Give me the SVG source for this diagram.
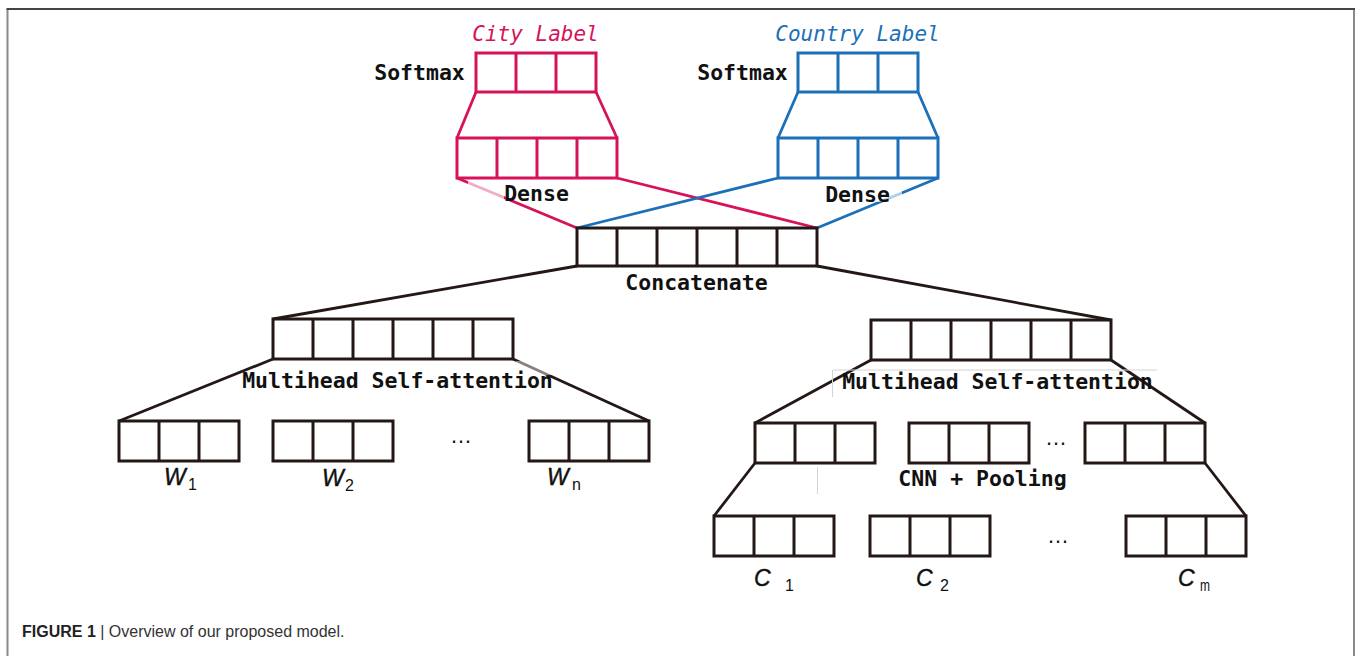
<svg xmlns="http://www.w3.org/2000/svg" width="1360" height="656" viewBox="0 0 1360 656">
  <style>
    .box { fill: none; stroke: #231815; stroke-width: 3; }
    .box.pink { stroke: #d6125b; }
    .box.blue { stroke: #1b70b8; }
    .link { fill: none; stroke: #231815; stroke-width: 2.8; }
    .link.pink { stroke: #d6125b; }
    .link.blue { stroke: #1b70b8; }
    .mono { font-family: "DejaVu Sans Mono", "Liberation Mono", monospace; font-weight: bold; font-size: 21.5px; fill: #111; text-anchor: middle; }
    .title { font-family: "DejaVu Sans Mono", "Liberation Mono", monospace; font-style: italic; font-size: 21px; text-anchor: middle; }
    .var { font-family: "Liberation Sans", Arial, sans-serif; font-style: italic; font-size: 23px; fill: #111; stroke: #111; stroke-width: 0.4; }
    .sub { font-family: "Liberation Sans", Arial, sans-serif; font-size: 16px; fill: #111; }
    .dots { font-family: "Liberation Sans", Arial, sans-serif; font-size: 22px; fill: #111; text-anchor: middle; }
    .ghost { stroke: #d4d4d4; stroke-width: 1; fill: none; }
  </style>

  <rect width="1360" height="656" fill="#ffffff"/>

  <!-- outer frame (open at the bottom) -->
  <path d="M7.5 660 V9" stroke="#8a8a8a" stroke-width="2" fill="none"/>
  <path d="M1354 660 V9" stroke="#8a8a8a" stroke-width="2" fill="none"/>
  <path d="M6.5 9 H1355" stroke="#444" stroke-width="2" fill="none"/>

  <!-- connectors -->
  <g id="connectors">
    <!-- softmax to dense trapezoids -->
    <path class="link pink" d="M476 92 L457 138 M596 92 L617 138"/>
    <path class="link blue" d="M798 92 L778 138 M918 92 L938 138"/>
    <!-- dense layers to concatenation (crossing) -->
    <path class="link pink" d="M457 178 L577 228 M617 178 L817 228"/>
    <path class="link blue" d="M778 178 L577 228 M938 178 L817 228"/>
    <!-- concatenation to the two attention blocks -->
    <path class="link" d="M577 266 L273 319"/>
    <path class="link" d="M817 266 L1111 320"/>
    <!-- word attention to word vectors -->
    <path class="link" d="M273 359 L119 421"/>
    <path class="link" d="M513 359 L649 421"/>
    <!-- char attention to CNN outputs -->
    <path class="link" d="M871 360 L755 423"/>
    <path class="link" d="M1111 360 L1205 423"/>
    <!-- CNN outputs to character vectors -->
    <path class="link" d="M755 463 L714 516"/>
    <path class="link" d="M1205 463 L1246 516"/>
    <!-- faded segments under the label backgrounds -->
    <rect x="468" y="178" width="36" height="24" fill="#fff" opacity="0.65"/>
    <rect x="866" y="180" width="36" height="22" fill="#fff" opacity="0.65"/>
    <rect x="516" y="361" width="40" height="14" fill="#fff" opacity="0.45"/>
    <path class="ghost" d="M832.5 370 V397 M833 370 H1157 M817.5 467 V494"/>
  </g>

  <!-- city branch -->
  <g id="city-label">
    <text class="title" x="535.5" y="40.5" fill="#d6125b">City Label</text>
  </g>
  <g id="city-softmax">
    <text class="mono" x="419.5" y="79.5">Softmax</text>
    <rect class="box pink" x="476" y="53" width="120" height="39"/>
    <path class="box pink" d="M516 53 V92 M556 53 V92"/>
  </g>
  <g id="city-dense">
    <rect class="box pink" x="457" y="138" width="160" height="40"/>
    <path class="box pink" d="M497 138 V178 M537 138 V178 M577 138 V178"/>
    <text class="mono" x="536.5" y="201">Dense</text>
  </g>

  <!-- country branch -->
  <g id="country-label">
    <text class="title" x="857.5" y="40.5" fill="#1b70b8">Country Label</text>
  </g>
  <g id="country-softmax">
    <text class="mono" x="742.5" y="79.5">Softmax</text>
    <rect class="box blue" x="798" y="53" width="120" height="39"/>
    <path class="box blue" d="M838 53 V92 M878 53 V92"/>
  </g>
  <g id="country-dense">
    <rect class="box blue" x="778" y="138" width="160" height="40"/>
    <path class="box blue" d="M818 138 V178 M858 138 V178 M898 138 V178"/>
    <text class="mono" x="857.5" y="201.5">Dense</text>
  </g>

  <!-- shared representation -->
  <g id="concatenate">
    <rect class="box" x="577" y="228" width="240" height="38"/>
    <path class="box" d="M617 228 V266 M657 228 V266 M697 228 V266 M737 228 V266 M777 228 V266"/>
    <text class="mono" x="696.5" y="290">Concatenate</text>
  </g>

  <!-- word-level attention -->
  <g id="word-attention">
    <rect class="box" x="273" y="319" width="240" height="40"/>
    <path class="box" d="M313 319 V359 M353 319 V359 M393 319 V359 M433 319 V359 M473 319 V359"/>
    <text class="mono" x="397.5" y="387.5">Multihead Self-attention</text>
  </g>
  <g id="word-1">
    <rect class="box" x="119" y="421" width="120" height="40"/>
    <path class="box" d="M159 421 V461 M199 421 V461"/>
    <text class="var" x="164" y="485">W</text>
    <text class="sub" x="188" y="490">1</text>
  </g>
  <g id="word-2">
    <rect class="box" x="273" y="421" width="120" height="40"/>
    <path class="box" d="M313 421 V461 M353 421 V461"/>
    <text class="var" x="322" y="486">W</text>
    <text class="sub" x="345" y="491">2</text>
  </g>
  <g id="word-gap">
    <text class="dots" x="461" y="443">…</text>
  </g>
  <g id="word-n">
    <rect class="box" x="529" y="421" width="120" height="40"/>
    <path class="box" d="M569 421 V461 M609 421 V461"/>
    <text class="var" x="547" y="485">W</text>
    <text class="sub" x="572" y="490">n</text>
  </g>

  <!-- character-level attention -->
  <g id="char-attention">
    <rect class="box" x="871" y="320" width="240" height="40"/>
    <path class="box" d="M911 320 V360 M951 320 V360 M991 320 V360 M1031 320 V360 M1071 320 V360"/>
    <text class="mono" x="997.5" y="389">Multihead Self-attention</text>
  </g>
  <g id="cnn-1">
    <rect class="box" x="755" y="423" width="120" height="40"/>
    <path class="box" d="M795 423 V463 M835 423 V463"/>
  </g>
  <g id="cnn-2">
    <rect class="box" x="909" y="423" width="120" height="40"/>
    <path class="box" d="M949 423 V463 M989 423 V463"/>
  </g>
  <g id="cnn-gap">
    <text class="dots" x="1056" y="445">…</text>
  </g>
  <g id="cnn-m">
    <rect class="box" x="1085" y="423" width="120" height="40"/>
    <path class="box" d="M1125 423 V463 M1165 423 V463"/>
  </g>
  <g id="cnn-pooling">
    <text class="mono" x="982.5" y="486">CNN + Pooling</text>
  </g>
  <g id="char-1">
    <rect class="box" x="714" y="516" width="120" height="40"/>
    <path class="box" d="M754 516 V556 M794 516 V556"/>
    <text class="var" x="754" y="586" font-size="24">C</text>
    <text class="sub" x="785" y="591">1</text>
  </g>
  <g id="char-2">
    <rect class="box" x="870" y="516" width="120" height="40"/>
    <path class="box" d="M910 516 V556 M950 516 V556"/>
    <text class="var" x="916" y="586" font-size="24">C</text>
    <text class="sub" x="940" y="591">2</text>
  </g>
  <g id="char-gap">
    <text class="dots" x="1058" y="543">…</text>
  </g>
  <g id="char-m">
    <rect class="box" x="1126" y="516" width="120" height="40"/>
    <path class="box" d="M1166 516 V556 M1206 516 V556"/>
    <text class="var" x="1178" y="586" font-size="24">C</text>
    <text class="sub" x="1200" y="591" font-size="14" textLength="10" lengthAdjust="spacingAndGlyphs">m</text>
  </g>

  <!-- caption -->
  <g id="caption">
    <text x="22" y="637" font-family="'Liberation Sans', Arial, sans-serif" font-size="16" fill="#333"><tspan font-weight="bold" fill="#222">FIGURE 1</tspan> | Overview of our proposed model.</text>
  </g>
</svg>
